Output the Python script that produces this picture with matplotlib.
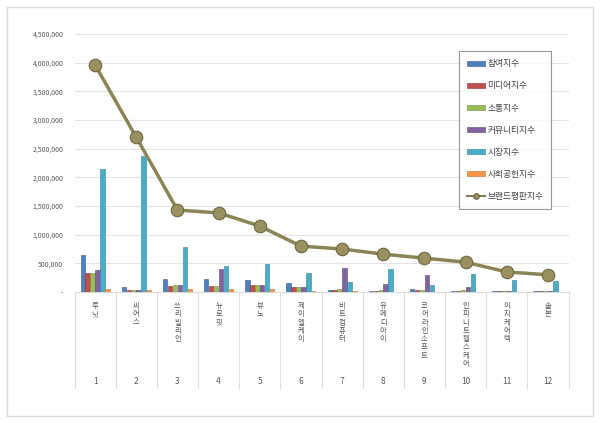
import numpy as np
import matplotlib
matplotlib.use("Agg")
import matplotlib.pyplot as plt
from matplotlib.patches import Rectangle
from matplotlib.ticker import FuncFormatter, MultipleLocator

plt.rcParams['font.family'] = ['Noto Sans CJK KR', 'DejaVu Sans']

names = ['루닛', '씨어스', '쓰리빌리언', '뉴로핏', '뷰노', '제이엘케이',
         '비트컴퓨터', '유메디아이', '코어라인소프트', '인피니트헬스케어', '이지케어텍', '솔본']
ranks = [str(i) for i in range(1, 13)]

series_names = ['참여지수', '미디어지수', '소통지수', '커뮤니티지수', '시장지수', '사회공헌지수']
participation = [645000, 90000, 230000, 230000, 210000, 150000, 30000, 20000, 50000, 20000, 20000, 10000]
media = [340000, 40000, 110000, 110000, 120000, 80000, 30000, 20000, 30000, 15000, 10000, 10000]
communication = [340000, 40000, 120000, 110000, 120000, 80000, 60000, 30000, 40000, 30000, 10000, 10000]
community = [390000, 40000, 120000, 400000, 120000, 80000, 410000, 140000, 295000, 90000, 10000, 10000]
market = [2150000, 2380000, 780000, 450000, 490000, 340000, 170000, 395000, 125000, 310000, 210000, 195000]
social = [60000, 30000, 50000, 60000, 50000, 15000, 10000, 5000, 5000, 5000, 5000, 3000]
brand = [3960000, 2700000, 1430000, 1380000, 1150000, 800000, 750000, 660000, 590000, 520000, 350000, 300000]

colors = ['#4F81BD', '#C0504D', '#9BBB59', '#8064A2', '#4BACC6', '#F79646']
edges = ['#2E5A8E', '#8E2F2C', '#6F8A3A', '#5A4478', '#2E8198', '#C06F2A']

fig = plt.figure(figsize=(6, 4.23), dpi=100)
fig.patches.append(Rectangle((7 / 600, 1 - 416 / 423), 586 / 600, 409 / 423,
                             transform=fig.transFigure, fill=False,
                             edgecolor='#D9D9D9', lw=1))
ax = fig.add_axes([74.5 / 600, 1 - 292 / 423, 494 / 600, 258 / 423])

x = np.arange(len(names))
w = 0.12
data = [participation, media, communication, community, market, social]
for k, vals in enumerate(data):
    ax.bar(x + (k - 2.5) * w, vals, width=w * 0.9, color=colors[k],
           edgecolor=edges[k], linewidth=0.4, label=series_names[k], zorder=3)

ax.plot(x, brand, color='#8B8455', lw=2.5, marker='o', markersize=9,
        markerfacecolor='#9A9060', markeredgecolor='#6E6840', markeredgewidth=0.8,
        label='브랜드평판지수', zorder=4)

ax.set_xlim(-0.5, len(names) - 0.5)
ax.set_ylim(0, 4500000)
ax.yaxis.set_major_locator(MultipleLocator(500000))
ax.yaxis.set_major_formatter(FuncFormatter(lambda v, p: '-' if v == 0 else f'{int(v):,}'))
ax.tick_params(axis='y', length=0, labelsize=5, labelcolor='#595959', pad=8)
ax.set_xticks([])
ax.grid(axis='y', color='#E3E3E3', lw=0.8, zorder=0)
for s in ['top', 'right', 'left']:
    ax.spines[s].set_visible(False)
ax.spines['bottom'].set_color('#D9D9D9')

# category label area below the axis (stacked vertical text)
tr = ax.get_xaxis_transform()
depth = -(388 - 292) / 258
for b in np.arange(-0.5, len(names), 1.0):
    ax.plot([b, b], [0, depth], transform=tr, color='#E0E0E0', lw=0.8, clip_on=False)
step = 8.3 / 258
for i, n in enumerate(names):
    for j, ch in enumerate(n):
        ax.text(i, -14 / 258 - j * step, ch, transform=tr,
                ha='center', va='center', fontsize=5.3, color='#595959')
    ax.text(i, -89 / 258, ranks[i], transform=tr,
            ha='center', va='center', fontsize=6, color='#595959')

handles, labels = ax.get_legend_handles_labels()
order = [1, 2, 3, 4, 5, 6, 0]
leg = fig.legend([handles[i] for i in order], [labels[i] for i in order],
                 loc='upper left', bbox_to_anchor=(455 / 600, 1 - 47 / 423),
                 fontsize=6.3, frameon=True, fancybox=False, edgecolor='#7F7F7F',
                 handlelength=2.0, handleheight=0.5, labelspacing=1.5,
                 borderpad=0.9, handletextpad=0.3, labelcolor='#404040')
leg.get_frame().set_linewidth(0.8)
leg.legend_handles[-1].set_markersize(4)
leg.legend_handles[-1].set_linewidth(1.5)

fig.savefig('out.png', dpi=100)
